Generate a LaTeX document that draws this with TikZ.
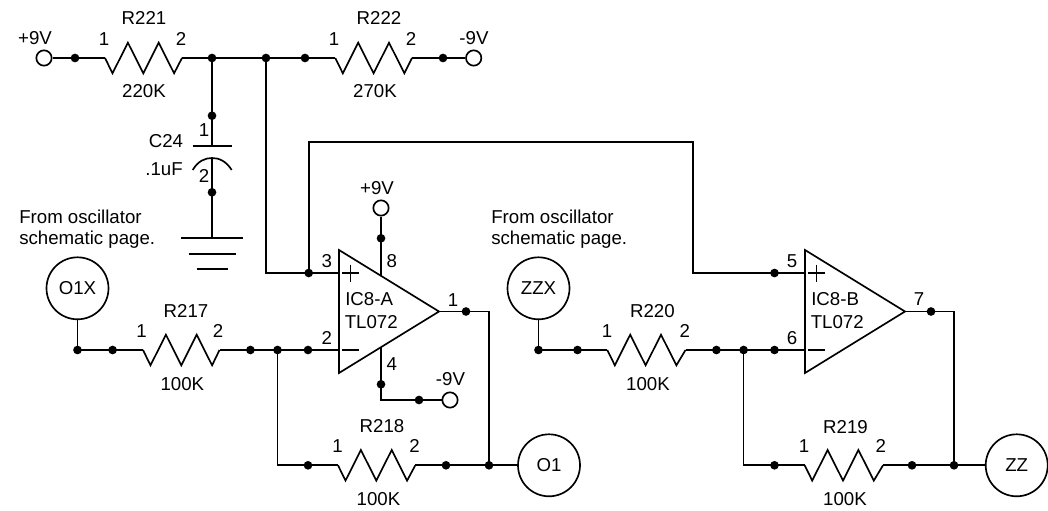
\documentclass[tikz,border=0pt]{standalone}
\usepackage{fontspec}
\setmainfont{Liberation Sans}
\tikzset{
  x=0.75pt,y=-0.75pt,
  wire/.style={line width=1.25pt,line join=miter},
  dotn/.style={circle,fill=black,draw=none,inner sep=0pt,minimum size=6.5pt},
  term/.style={circle,draw,line width=1.25pt,inner sep=0pt,minimum size=11.5pt,fill=white},
  port/.style={circle,draw,line width=1.25pt,inner sep=0pt,minimum size=46.5pt,fill=white},
  lbl/.style={inner sep=0pt,font=\fontsize{14}{15.75}\selectfont},
  note/.style={lbl,align=left,anchor=west},
}
% \myres{name}{x left}{x right}{y}
\newcommand{\myres}[4]{%
  \coordinate (#1a) at (#2,#4);
  \coordinate (#1b) at (#3,#4);
  \draw[wire] (#1a) -- ++(7.5,15.3) -- ++(15.4,-30.6) -- ++(15.4,30.6) -- ++(15.4,-30.6) -- ++(15.4,30.6) -- (#1b);
}
% \myopamp{name}{x left}{first label}
\newcommand{\myopamp}[3]{%
  \coordinate (#1tl) at (#2,250);
  \coordinate (#1bl) at (#2,373);
  \coordinate (#1o) at ({#2+100},311.5);
  \coordinate (#1p) at (#2,273);
  \coordinate (#1m) at (#2,350);
  \draw[wire,fill=white] (#1tl) -- (#1o) -- (#1bl) -- cycle;
  \draw[wire] ({#2+3},349.8) -- ({#2+19.5},349.8);
  \draw[wire] ({#2+3},273) -- ({#2+20},273);
  \draw[wire] ({#2+11.5},264.5) -- ({#2+11.5},281.5);
  \node[lbl,anchor=west] (#1t1) at ({#2+6},299.5) {#3};
  \node[lbl,anchor=west] (#1t2) at ({#2+5.5},322) {TL072};
}
\begin{document}
\begin{tikzpicture}
\useasboundingbox (0,0) rectangle (1048,510);

% ---- top rail
\node[term] (tp) at (44,58) {};
\node[term] (tn) at (473.7,58) {};
\node[dotn] (d1) at (75,58) {};
\node[dotn] (d2) at (212,58) {};
\node[dotn] (d3) at (266,58) {};
\node[dotn] (d4) at (305,58) {};
\node[dotn] (d5) at (443,58) {};
\myres{ra}{105}{182}{58}
\myres{rb}{335.3}{412}{58}
\draw[wire] (tp) -- (d1.center) -- (raa);
\draw[wire] (rab) -- (d2.center) -- (d3.center) -- (d4.center) -- (rba);
\draw[wire] (rbb) -- (d5.center) -- (tn);

% ---- capacitor and ground
\node[dotn] (d6) at (212,115.7) {};
\node[dotn] (d7) at (212,192.3) {};
\coordinate (capt) at (212,146);
\coordinate (capb) at (212,158);
\coordinate (gnd) at (212,238.3);
\draw[wire] (d2.center) -- (d6.center) -- (capt);
\draw[wire] (192.7,146) -- (231.7,146);
\draw[wire] (192.7,170) .. controls (198,161) and (205,158) .. (capb) .. controls (219,158) and (226,161) .. (231.7,170);
\draw[wire] (capb) -- (d7.center) -- (gnd);
\draw[wire] (181,238.3) -- (243.3,238.3);
\draw[wire] (188.7,254) -- (235.7,254);
\draw[wire] (196.7,268.7) -- (228.3,268.7);

% ---- op amps
\myopamp{ua}{339}{IC8-A}
\myopamp{ub}{805}{IC8-B}

% ---- op amp A
\node[dotn] (d8) at (308.7,273) {};
\coordinate (fbc) at (308.7,142.3);
\coordinate (fbd) at (692.7,142.3);
\coordinate (fbe) at (692.7,273);
\coordinate (c3) at (266,273);
\draw[wire] (d3.center) -- (c3) -- (d8.center) -- (uap);
\node[term] (t8) at (381,208) {};
\node[dotn] (d9) at (381,238.3) {};
\coordinate (a8) at (381,276);
\draw[wire] (t8) -- (d9.center) -- (a8);
\coordinate (a4) at (381,347);
\node[dotn] (d10) at (381,384.3) {};
\coordinate (c4) at (381,400);
\node[dotn] (d11) at (419,400) {};
\node[term] (t4) at (450,400) {};
\draw[wire] (a4) -- (d10.center) -- (c4) -- (d11.center) -- (t4);

% ---- inverting stage A
\node[port] (o1x) at (77.5,288.3) {};
\node[lbl] (o1xt) at (o1x) {O1X};
\node[dotn] (d12) at (77.5,350) {};
\node[dotn] (d13) at (112.6,350) {};
\myres{rc}{143}{219.5}{350}
\node[dotn] (d14) at (250.4,350) {};
\node[dotn] (d15) at (277.5,350) {};
\node[dotn] (d16) at (308,350) {};
\draw[wire] (o1x) -- (d12.center) -- (d13.center) -- (rca);
\draw[wire] (rcb) -- (d14.center) -- (d15.center) -- (d16.center) -- (uam);
\coordinate (c5) at (277.5,465.3);
\node[dotn] (d17) at (308,465.3) {};
\myres{rd}{338}{415.3}{465.3}
\node[dotn] (d18) at (446,465.3) {};
\node[dotn] (d19) at (489,465.3) {};
\node[port] (o1) at (549,465.3) {};
\node[lbl] (o1t) at (o1) {O1};
\draw[wire] (d15.center) -- (c5) -- (d17.center) -- (rda);
\draw[wire] (rdb) -- (d18.center) -- (d19.center) -- (o1);
\node[dotn] (d20) at (466,311.5) {};
\coordinate (c6) at (489,311.5);
\draw[wire] (uao) -- (d20.center) -- (c6) -- (d19.center);

% ---- op amp B
\node[dotn] (d21) at (774.5,273) {};
\draw[wire] (d8.center) -- (fbc) -- (fbd) -- (fbe) -- (d21.center) -- (ubp);
\node[port] (zzx) at (538.5,288.3) {};
\node[lbl] (zzxt) at (zzx) {ZZX};
\node[dotn] (d22) at (538.5,350) {};
\node[dotn] (d23) at (577.5,350) {};
\myres{re}{607.3}{685.5}{350}
\node[dotn] (d24) at (716.4,350) {};
\node[dotn] (d25) at (743.6,350) {};
\node[dotn] (d26) at (774.5,350) {};
\draw[wire] (zzx) -- (d22.center) -- (d23.center) -- (rea);
\draw[wire] (reb) -- (d24.center) -- (d25.center) -- (d26.center) -- (ubm);
\coordinate (c7) at (743.6,465.3);
\node[dotn] (d27) at (774.5,465.3) {};
\myres{rf}{804.7}{883}{465.3}
\node[dotn] (d28) at (912,465.3) {};
\node[dotn] (d29) at (954,465.3) {};
\node[port] (zz) at (1016.7,465.3) {};
\node[lbl] (zzt) at (zz) {ZZ};
\draw[wire] (d25.center) -- (c7) -- (d27.center) -- (rfa);
\draw[wire] (rfb) -- (d28.center) -- (d29.center) -- (zz);
\node[dotn] (d30) at (931,311.5) {};
\coordinate (c8) at (954,311.5);
\draw[wire] (ubo) -- (d30.center) -- (c8) -- (d29.center);

% ---- labels
\node[lbl] (l1) at (35,38) {+9V};
\node[lbl] (l2) at (474,38) {-9V};
\node[lbl] (l3) at (144,18) {R221};
\node[lbl] (l4) at (104,39) {1};
\node[lbl] (l5) at (181,39) {2};
\node[lbl] (l6) at (144,91) {220K};
\node[lbl] (l7) at (379,18) {R222};
\node[lbl] (l8) at (334,39) {1};
\node[lbl] (l9) at (411,39) {2};
\node[lbl] (l10) at (375,91) {270K};
\node[lbl] (l11) at (166,141) {C24};
\node[lbl] (l12) at (164,169) {.1uF};
\node[lbl] (l13) at (204,130) {1};
\node[lbl] (l14) at (204,176) {2};
\node[lbl] (l15) at (377,188) {+9V};
\node[note] (n1) at (19,229) {From oscillator\\schematic page.};
\node[note] (n2) at (491,229) {From oscillator\\schematic page.};
\node[lbl] (l16) at (326.7,260.7) {3};
\node[lbl] (l17) at (326.7,337.7) {2};
\node[lbl] (l18) at (391.7,260.7) {8};
\node[lbl] (l19) at (391.7,364) {4};
\node[lbl] (l20) at (453,300) {1};
\node[lbl] (l21) at (450.5,379) {-9V};
\node[lbl] (l22) at (186,310.7) {R217};
\node[lbl] (l23) at (141.6,330.7) {1};
\node[lbl] (l24) at (218,330.7) {2};
\node[lbl] (l25) at (182.4,384) {100K};
\node[lbl] (l26) at (382,426) {R218};
\node[lbl] (l27) at (337.5,446) {1};
\node[lbl] (l28) at (414.5,446) {2};
\node[lbl] (l29) at (378.5,499) {100K};
\node[lbl] (l30) at (652.4,310.7) {R220};
\node[lbl] (l31) at (607,330.7) {1};
\node[lbl] (l32) at (684.7,330.7) {2};
\node[lbl] (l33) at (648,384) {100K};
\node[lbl] (l34) at (845.5,426.7) {R219};
\node[lbl] (l35) at (804,446) {1};
\node[lbl] (l36) at (880.7,446) {2};
\node[lbl] (l37) at (845,499) {100K};
\node[lbl] (l38) at (792,261) {5};
\node[lbl] (l39) at (792,337.7) {6};
\node[lbl] (l40) at (919,299) {7};
\end{tikzpicture}
\end{document}
